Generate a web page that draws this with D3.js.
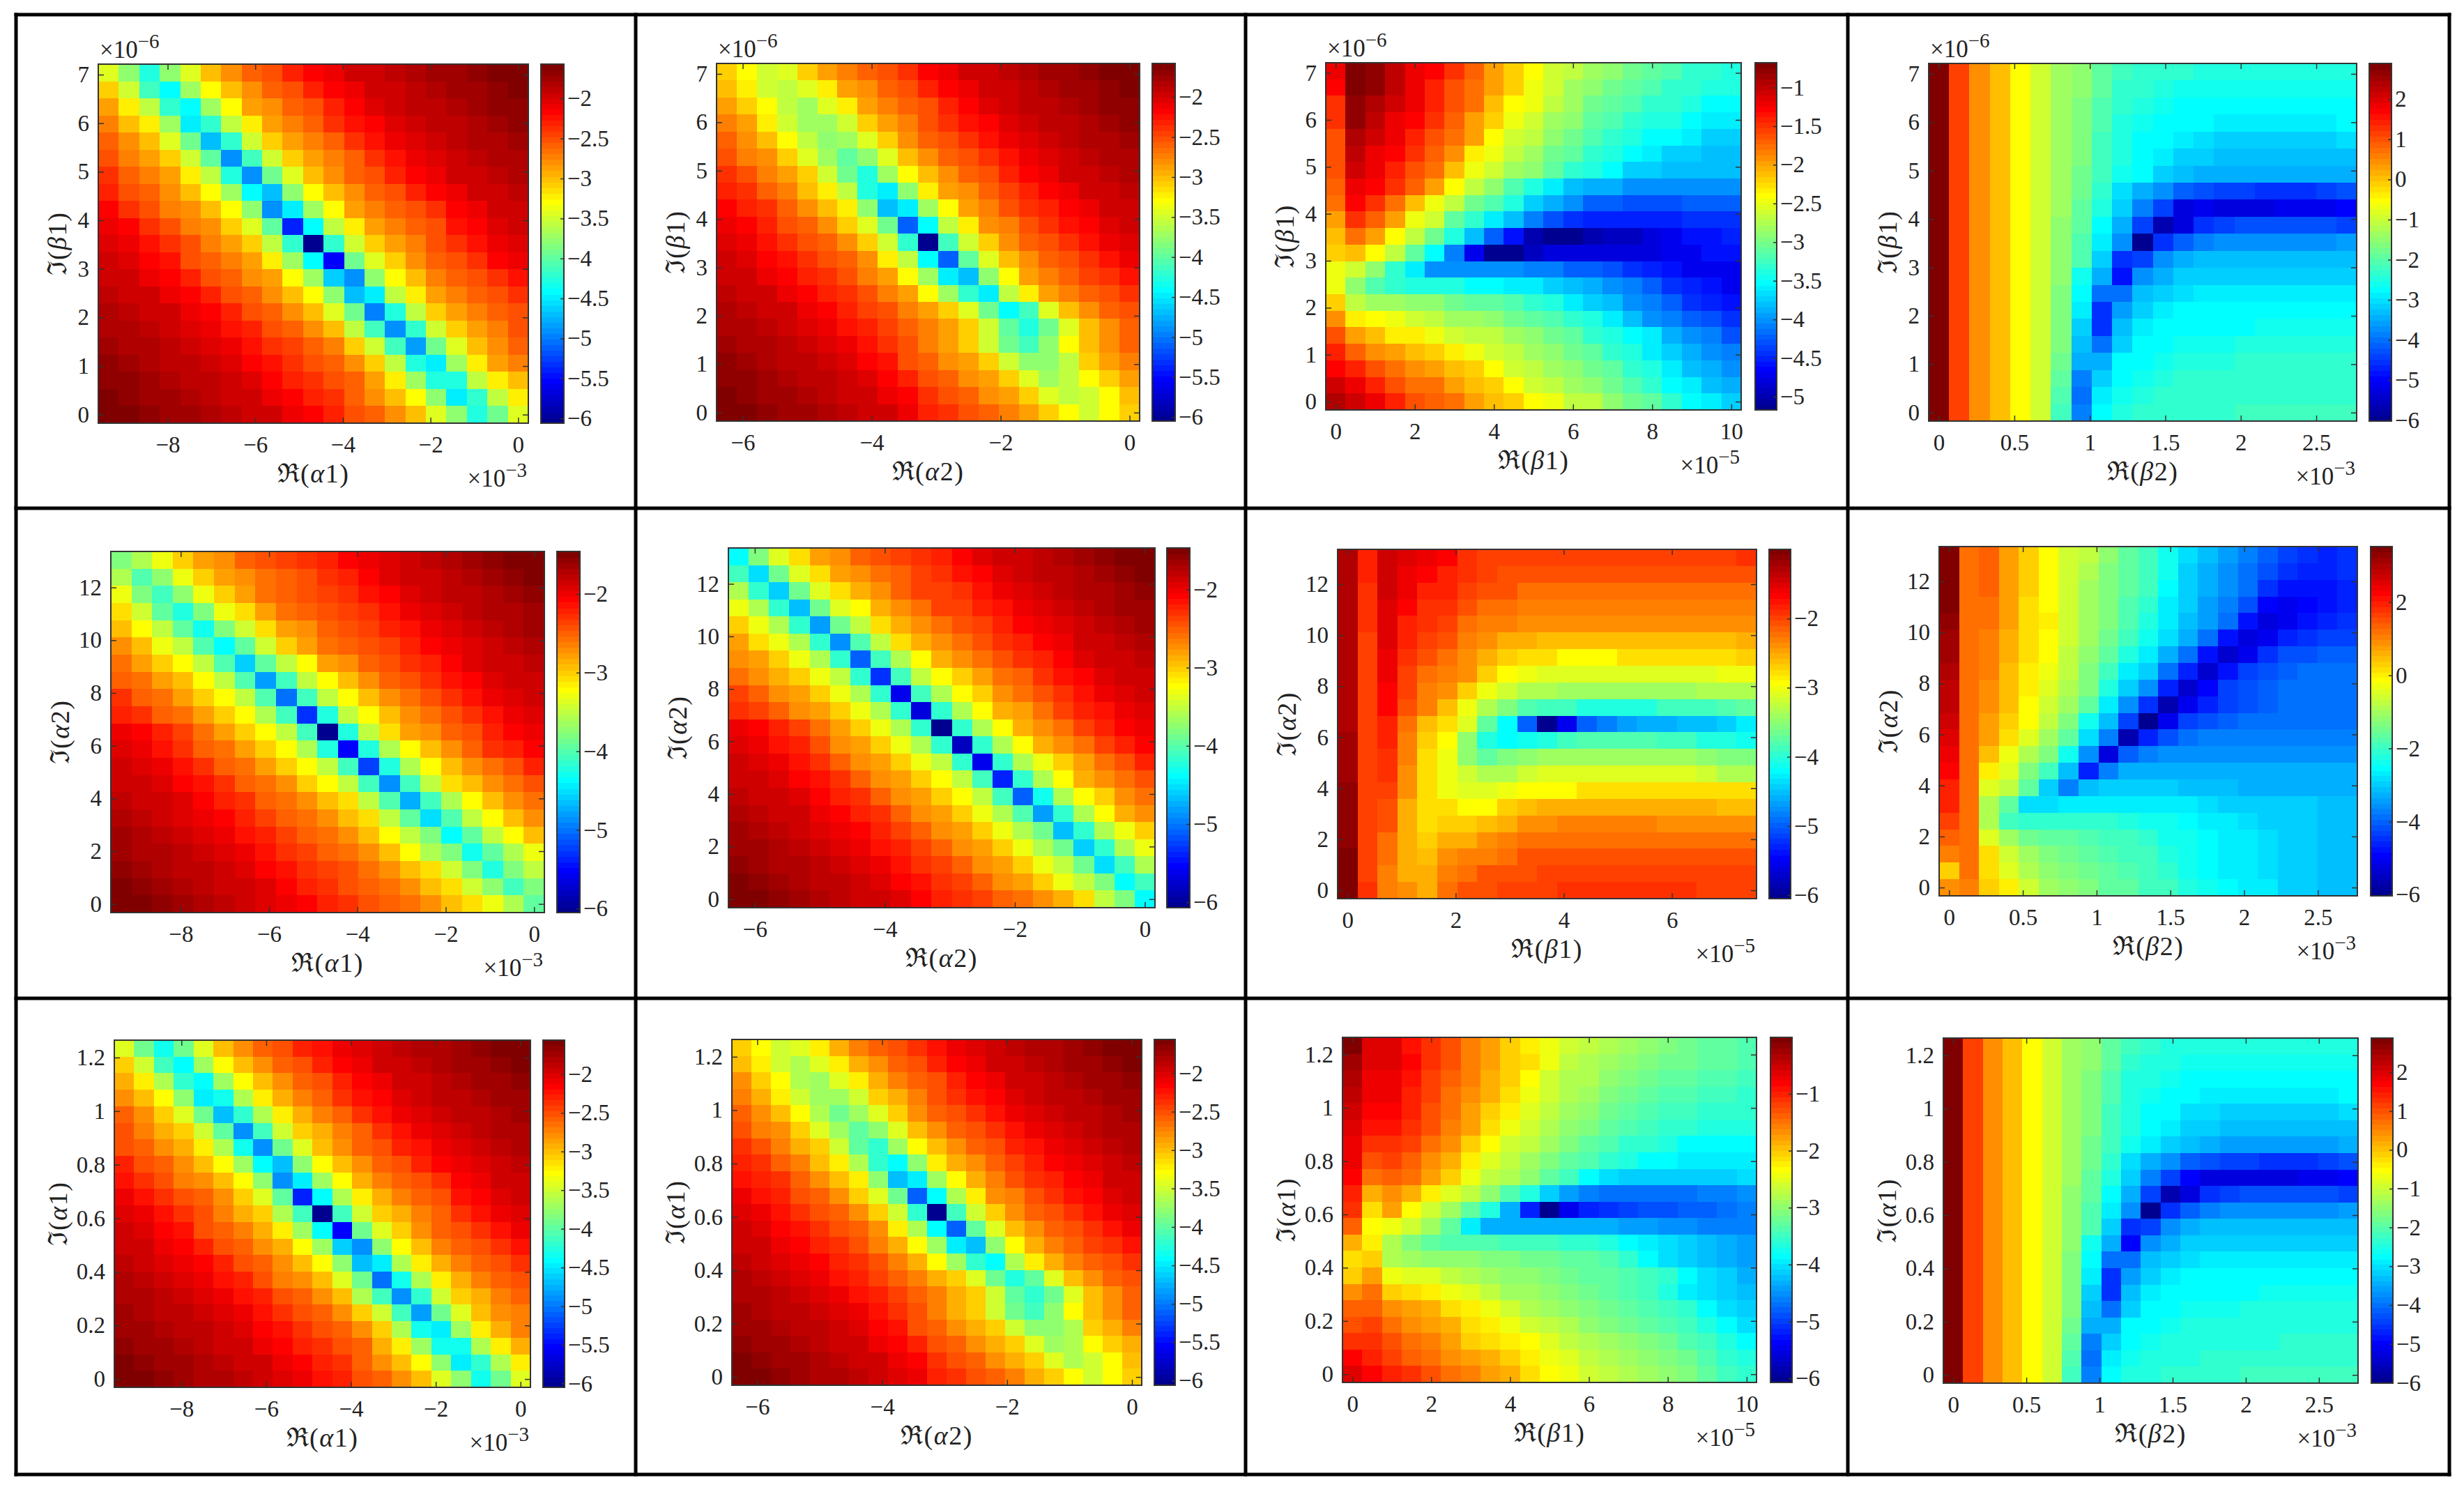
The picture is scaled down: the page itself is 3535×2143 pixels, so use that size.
<!DOCTYPE html>
<html>
<head>
<meta charset="utf-8">
<script src="https://cdn.jsdelivr.net/npm/d3@7"></script>
<style>
  html, body { margin: 0; background: #fff; }
  text { font-family: "Liberation Serif", "DejaVu Serif", serif; fill: #222; }
</style>
</head>
<body>
<svg id="chart"></svg>
<script>
// cells, top row first, in units of -0.1 (33 means -3.3)
const a1b1 = [
[34,38,43,38,34,30,28,26,25,23,22,21,19.9,19.4,18.8,18.3,17.8,17.3,16.8,16.3,15.8],
[31,35,41,44,37,33,30,28,26,25,23,21.8,20.8,19.8,19.3,18.7,18.2,17.7,17.2,16.7,16.2],
[29,32,36,42,44,37,33,29,28,26,25,22.8,21.7,20.6,19.7,19.2,18.6,18.1,17.6,17.1,16.6],
[27,30,32,37,45,42,36,32,29,27,26,23.7,22.6,21.5,20.4,19.6,19.1,18.6,18.1,17.6,17.1],
[26,28,30,34,39,47,42,35,31,29,27,26,24,22.3,21.2,20.2,19.5,19,18.5,18,17.5],
[25,27,29,31,35,40,49,41,35,31,29,27,26,24,22.1,21,20,19.5,18.9,18.4,17.9],
[24,26,27,29,32,36,43,49,39,34,30,28,26,25,23,22,20.9,19.9,19.4,18.9,18.4],
[23,25,26,28,30,33,37,44,47,38,33,30,28,26,25,23,21.9,20.8,19.9,19.4,18.8],
[22,24,25,27,28,30,33,38,49,45,37,33,29,27,26,25,23.5,21.7,20.7,19.8,19.3],
[21,22,24,25,27,28,31,34,40,54,44,36,32,29,27,26,25,22.6,21.5,20.4,19.7],
[20.2,21.2,22.3,24,25,27,29,31,36,42,60,42,35,31,29,27,25.5,24,22.3,21.2,20.2],
[19.7,20.4,21.5,22.6,25,26,27,29,32,37,44,55,39,34,31,28,26,25,24,22,21],
[19.3,19.8,20.7,21.7,22.8,25,26,28,29,33,37,46,49,38,33,30,27,26,25,24,22.2],
[18.8,19.4,19.9,20.8,21.9,22.9,25,26,28,30,33,38,47,45,36,32,29,27,26,25,24],
[18.4,18.9,19.4,19.9,20.9,22,23,25,26,28,30,34,39,50,43,36,31,29,27,26,25],
[17.9,18.4,18.9,19.5,20,21,22.1,23.2,25,26,28,30,36,41,49,42,35,31,29,27,25],
[17.5,18,18.5,19,19.5,20.2,21.2,22.3,23.5,24.5,26,27,31,35,41,48,39,34,30,28,26],
[17.1,17.6,18.1,18.6,19.1,19.6,20.4,21.5,22.6,23.7,25,26,28,31,36,43,45,37,32,29,27],
[16.6,17.1,17.6,18.1,18.6,19.2,19.7,20.6,21.7,22.8,24,25,26,29,32,37,43,43,36,32,30],
[16.2,16.7,17.2,17.7,18.2,18.7,19.3,19.8,20.8,21.8,23,24,26,28,30,33,38,45,42,36,32],
[15.8,16.3,16.8,17.3,17.8,18.3,18.8,19.4,19.9,21,22,23,25,26,28,30,34,38,43,39,34]];
const a2b1 = [
[31,33,35,34,31,29,27,26,25,24,22,21,19.9,19.4,18.8,18.3,17.8,17.3,16.8,16.3,15.8],
[30,32,35,36,34,32,29,28,26,25,23,21.8,20.8,19.8,19.3,18.7,18.2,17.7,17.2,16.7,16.2],
[29,31,33,36,37,34,32,29,27,26,25,22.8,21.7,20.6,19.7,19.2,18.6,18.1,17.6,17.1,16.6],
[27,29,32,35,37,37,35,31,29,27,25,23.7,22.6,21.5,20.4,19.6,19.1,18.6,18.1,17.6,17.1],
[26,28,30,33,36,38,37,34,31,28,26,25,24,22.3,21.2,20.2,19.5,19,18.5,18,17.5],
[25,27,28,31,34,37,40,38,34,30,28,26,25,23.5,22.1,21,20,19.5,18.9,18.4,17.9],
[24,25,27,29,31,35,39,43,37,33,30,28,26,25,23,22,20.9,19.9,19.4,18.9,18.4],
[23,24,26,27,30,32,36,43,45,38,32,29,28,26,24.5,23,21.9,20.8,19.9,19.4,18.8],
[22,23,24,26,28,30,32,38,47,45,37,33,29,27,25,24,22.8,21.7,20.7,19.8,19.3],
[21,22,23,25,26,28,31,34,39,51,44,36,32,28,27,25,24,22.6,21.5,20.4,19.7],
[20.2,21.2,22.3,23.5,25,26,28,31,35,42,60,41,35,31,28,26,25,24,22.3,21.2,20.2],
[19.7,20.4,21.5,22.6,24,25,26,28,32,36,44,51,40,34,30,28,26,25,24,22.5,21],
[19.3,19.8,20.7,21.7,22.8,24,25,27,29,33,37,45,47,38,33,29,27,26,24.5,23.5,22.2],
[18.8,19.4,19.9,20.8,21.9,22.9,24,25,27,29,33,37,42,45,36,32,29,27,26,25,23.5],
[18.4,18.9,19.4,19.9,20.9,22,23,24.5,25.5,27,29,31,34,39,44,41,34,30,28,26,25],
[17.9,18.4,18.9,19.5,20,21,22.1,23.2,24.5,26,27,29,31,35,40,43,39,34,30,28,26],
[17.5,18,18.5,19,19.5,20.2,21.2,22.3,23.5,25,27,29,31,35,39,41,38,33,30,28,26],
[17.1,17.6,18.1,18.6,19.1,19.6,20.4,21.5,22.6,25,26,28,29,31,35,38,38,36,31,29,27],
[16.6,17.1,17.6,18.1,18.6,19.2,19.7,20.6,21.7,22.8,25,26,28,29,31,34,37,36,33,31,29],
[16.2,16.7,17.2,17.7,18.2,18.7,19.3,19.8,20.8,21.8,24,25,26,28,29,31,34,36,35,33,30],
[15.8,16.3,16.8,17.3,17.8,18.3,18.8,19.4,19.9,21,23,24,25,26,27,29,31,33,35,33,31]];
const b1b1 = [
[12,7,8,10,12,13,15,17,20,22,24,26,27,28,29,30,31,32,33,33,34],
[13,7,8,10,12,14,16,18,20,22,25,26,28,29,30,31,32,33,33,34,34],
[15,8,9,11,12,14,16,18,21,24,25,27,28,30,31,32,33,33,34,35,35],
[15,8,10,12,13,15,17,20,22,25,26,28,29,31,32,33,34,34,35,36,36],
[16,9,11,12,14,16,18,20,24,26,27,29,30,32,33,34,35,35,36,37,37],
[16,10,12,13,15,17,19,23,25,27,28,30,31,33,34,35,36,37,37,38,38],
[16,11,12,14,16,18,21,25,26,28,29,31,33,34,35,37,37,38,38,38,38],
[17,12,13,15,17,20,24,27,29,32,34,36,38,39,39,40,40,40,40,40,40],
[18,13,15,18,21,25,27,30,32,34,37,39,40,42,42,43,43,43,42,42,42],
[20,15,17,20,25,26,31,33,36,38,41,43,44,45,45,45,45,45,44,44,44],
[21,18,20,24,27,30,34,38,42,46,50,51,51,50,49,49,48,47,46,46,45],
[22,21,24,27,31,35,41,47,51,51,49,48,48,48,48,48,48,47,47,46,46],
[25,26,29,33,36,40,40,40,40,40,41,41,42,42,43,44,45,46,47,47,47],
[25,29,32,33,34,34,34,35,35,36,36,37,38,39,40,41,42,44,45,46,47],
[22,27,28,28,29,29,30,31,31,32,33,34,36,37,38,40,41,42,44,45,46],
[19,23,24,25,26,27,28,28,29,30,31,32,33,34,36,38,40,41,42,43,44],
[16,20,21,23,23,25,26,27,27,28,29,30,31,33,34,35,36,39,40,41,43],
[14,17,19,20,21,22,23,25,26,27,28,29,30,31,33,34,36,37,39,40,41],
[13,14,16,18,19,20,21,22,24,26,27,28,29,30,31,33,34,36,38,39,40],
[11,12,14,16,18,18,20,21,22,24,26,27,28,29,30,32,33,35,36,38,39],
[9,11,12,14,16,17,18,20,21,22,24,25,27,27,29,30,31,33,35,36,37]];
const b2b1 = [
[-29,-11,-5,0,5,10,13,15,19,22,23,24,24,25,25,25,25,25,25,25,25],
[-29,-11,-5,0,5,10,13,15,19,23,24,25,26,26,26,26,26,26,26,26,26],
[-29,-11,-5,0,5,10,13,16,20,24,25,26,27,27,27,28,28,28,28,28,27],
[-29,-11,-5,0,5,10,13,16,21,25,26,27,28,28,29,29,29,29,29,29,28],
[-29,-11,-5,0,5,10,13,17,22,25,27,28,29,30,31,31,31,31,31,31,30],
[-29,-11,-5,0,5,10,14,17,22,25,28,29,31,32,33,33,33,33,33,33,33],
[-29,-11,-5,0,5,10,14,18,22,26,28,31,33,34,35,35,35,35,35,35,35],
[-29,-11,-5,0,5,10,14,18,23,30,34,37,41,43,44,44,45,45,45,44,43],
[-29,-11,-5,0,5,10,14,19,25,32,38,44,52,51,52,52,52,51,51,51,50],
[-29,-11,-5,0,5,10,15,19,28,35,44,57,52,46,44,43,43,43,43,43,44],
[-29,-11,-5,0,5,10,15,20,29,37,60,46,41,38,37,37,37,37,37,37,36],
[-29,-11,-5,0,5,10,15,21,31,46,44,37,35,33,33,33,33,33,33,33,33],
[-29,-11,-5,0,5,10,15,26,35,49,37,34,32,31,31,31,31,31,31,31,31],
[-29,-11,-5,0,5,10,16,28,40,40,33,32,30,29,29,29,29,29,29,29,29],
[-29,-11,-5,0,5,10,16,29,45,36,32,29,28,28,28,28,28,28,28,28,27],
[-29,-11,-5,0,5,10,16,31,45,33,29,28,27,27,27,27,26,26,26,26,26],
[-29,-11,-5,0,5,10,17,33,40,31,28,27,26,26,26,25,25,25,25,25,25],
[-29,-11,-5,0,5,10,18,35,35,28,27,26,25,25,25,24,24,24,24,24,24],
[-29,-11,-5,0,5,10,19,38,31,27,26,25,24,24,24,24,24,23,23,23,23],
[-29,-11,-5,0,5,10,20,40,29,26,25,24,24,23,23,23,23,23,23,23,23],
[-29,-11,-5,0,5,10,22,39,27,25,24,23,23,23,23,22,22,22,22,22,22]];
const a1a2 = [
[38,36,33,30,28,27,25,24.5,23.8,23,22,20.8,19.7,19,18.3,17.7,17.1,16.5,15.9,15.3,14.7],
[36,40,37,33,30,28,27,25.5,24.8,24,23,21.8,20.6,19.6,18.9,18.2,17.6,17,16.4,15.8,15.2],
[33,38,41,37,33,30,28,26,25,24,23.5,22.8,21.6,20.4,19.4,18.7,18.1,17.5,16.9,16.3,15.7],
[31,34,39,42,38,33,31,28,26,25,24,23.5,22.5,21.3,20.2,19.3,18.6,18,17.4,16.8,16.2],
[29,32,35,39,43,38,34,31,28,27,25,24.5,23.5,22.3,21.1,20,19.2,18.5,17.9,17.3,16.7],
[27,29,33,35,40,44,39,34,30,28,26,25,24.5,23.3,22,20.9,19.8,19,18.4,17.8,17.2],
[26,28,30,32,35,40,46,39,35,32,28,27,25,24.5,23,21.9,20.7,19.6,18.9,18.3,17.7],
[25,26,28,29,32,35,40,48,41,35,32,29,27,25,24,22.8,21.7,20.5,19.5,18.9,18.3],
[23,25,26,28,30,32,35,40,50,41,35,32,29,27,26,24.5,22.7,21.5,20.3,19.4,18.7],
[22,23,25,26,28,30,32,36,41,53,42,35,32,29,27,26,24,22.5,21.3,20.1,19.3],
[19.9,21,22.3,23.8,26,28,30,32,35,41,60,42,35,31,28,27,25,24,22.3,21,19.9],
[19.3,20.1,21.3,22.5,25,26,28,30,32,36,42,55,42,36,32,29,27,25,23,21.9,20.7],
[18.7,19.4,20.3,21.5,22.7,25,26,28,30,32,35,41,52,42,36,32,29,27,25.5,24,22],
[18.3,18.9,19.5,20.5,21.7,22.8,25,26,27,30,32,35,41,49,41,35,31,29,27,26,24.5],
[17.7,18.3,18.9,19.6,20.7,21.9,23,25,26,27,29,31,35,40,47,41,36,32,29,27,26],
[17.2,17.8,18.4,19,19.8,20.9,22,23.3,25,26,27,29,31,35,39,45,40,35,32,29,27],
[16.7,17.3,17.9,18.5,19.2,20,21.1,22.3,23.5,25,26,27,29,32,35,38,44,39,35,32,29],
[16.2,16.8,17.4,18,18.6,19.3,20.2,21.3,22.5,23.5,25,26,27,29,32,36,38,43,39,36,33],
[15.7,16.3,16.9,17.5,18.1,18.7,19.4,20.4,21.6,22.8,23.8,24.5,26,27,29,31,34,38,42,38,35],
[15.2,15.8,16.4,17,17.6,18.2,18.9,19.6,20.6,21.8,23,24,25,26,27,29,31,34,37,41,38],
[14.7,15.3,15.9,16.5,17.1,17.7,18.3,19,19.7,20.8,22,23,24,25,26,27,29,31,33,36,39]];
const a2a2 = [
[44,38,34,31,28,27,25,24.5,23.8,23,22,20.8,19.7,19,18.3,17.7,17.1,16.5,15.9,15.3,14.7],
[41,45,39,34,31,28,27,25.5,24.8,24,23,21.8,20.6,19.6,18.9,18.2,17.6,17,16.4,15.8,15.2],
[36,42,46,39,34,31,29,27,25,24,23.5,22.8,21.6,20.4,19.4,18.7,18.1,17.5,16.9,16.3,15.7],
[33,36,42,47,39,34,32,29,27,26,24,23.5,22.5,21.3,20.2,19.3,18.6,18,17.4,16.8,16.2],
[30,33,36,42,48,39,35,31,29,27,26,24.5,23.5,22.3,21.1,20,19.2,18.5,17.9,17.3,16.7],
[28,31,33,36,42,49,40,35,31,29,27,26,24.5,23.3,22,20.9,19.8,19,18.4,17.8,17.2],
[27,28,30,33,36,42,51,41,36,32,29,27,26,24.5,23,21.9,20.7,19.6,18.9,18.3,17.7],
[26,27,29,30,33,35,42,53,41,35,32,30,28,26,25,22.8,21.7,20.5,19.5,18.9,18.3],
[24,25,27,28,30,33,36,42,56,41,36,32,30,27,26,24.5,22.7,21.5,20.3,19.4,18.7],
[23,24,25,27,28,30,33,36,42,57,42,36,32,29,28,26,24,22.5,21.3,20.1,19.3],
[19.9,21,22.3,23.8,25.5,28,30,33,36,42,60,42,36,32,29,27,25.5,23.8,22.3,21,19.9],
[19.3,20.1,21.3,22.5,24.5,27,28,30,33,36,42,58,42,36,32,29,27,25.5,23.5,21.9,20.7],
[18.7,19.4,20.3,21.5,22.7,25,27,28,30,33,35,42,56,42,36,33,30,28,26,24.5,22],
[18.3,18.9,19.5,20.5,21.7,22.8,25,27,28,30,32,35,41,54,42,36,32,29,27,26,24.5],
[17.7,18.3,18.9,19.6,20.7,21.9,23,25,27,28,30,32,35,41,51,43,36,32,30,27,26],
[17.2,17.8,18.4,19,19.8,20.9,22,23.3,25,27,28,30,33,36,40,48,42,36,32,29,27],
[16.7,17.3,17.9,18.5,19.2,20,21.1,22.3,23.5,25,27,28,30,33,36,39,47,42,36,33,30],
[16.2,16.8,17.4,18,18.6,19.3,20.2,21.3,22.5,24,25,27,28,30,33,36,39,46,42,36,33],
[15.7,16.3,16.9,17.5,18.1,18.7,19.4,20.4,21.6,22.8,24,25,27,28,30,33,35,39,45,41,36],
[15.2,15.8,16.4,17,17.6,18.2,18.9,19.6,20.6,21.8,23,24,25,27,28,30,33,35,38,44,41],
[14.7,15.3,15.9,16.5,17.1,17.7,18.3,19,19.7,20.8,22,23,24,25,26,27,29,31,35,38,44]];
const b1a2 = [
[13,18,14,15,16,17,19,20,20,20,20,20,20,20,20,20,20,20,20,20,19],
[13,18,14,16,17,18,19,20,21,21,21,21,21,21,21,21,21,21,21,21,21],
[13,19,14,16,18,18,20,21,21,22,22,22,22,22,22,22,22,22,22,22,22],
[13,19,15,17,19,19,21,22,22,23,23,23,23,23,23,23,23,23,23,23,23],
[13,19,15,18,19,20,22,23,23,24,24,24,24,24,24,24,24,24,24,24,24],
[13,20,15,18,20,21,23,24,25,25,26,26,26,26,26,26,26,26,26,26,25],
[13,20,16,19,21,22,24,25,27,28,28,29,29,29,28,28,28,28,28,28,27],
[13,20,16,20,22,23,24,27,29,30,31,31,31,31,31,31,31,31,31,30,30],
[13,20,17,20,23,24,27,30,32,33,33,34,34,34,34,34,34,34,33,33,33],
[13,20,17,21,23,26,30,33,36,38,39,39,40,40,40,40,39,39,39,38,37],
[13,20,18,22,26,28,31,37,42,50,60,55,50,48,47,46,46,45,45,44,43],
[12,20,18,23,27,29,35,40,42,41,40,39,38,38,38,38,39,39,40,40,41],
[12,20,19,23,28,30,35,37,36,35,34,34,34,34,34,34,34,34,35,36,36],
[12,20,19,24,28,30,32,33,33,32,31,31,31,31,31,31,31,31,32,33,33],
[11,20,20,24,28,30,31,31,30,29,29,29,28,28,28,28,28,28,28,28,28],
[11,20,21,25,28,28,29,29,27,26,25,25,25,25,25,25,25,25,25,26,26],
[11,20,21,25,28,27,27,26,25,24,24,23,23,23,23,23,24,24,24,24,24],
[11,20,22,25,27,25,25,24,23,22,22,22,22,22,22,22,22,22,22,22,22],
[10,20,22,25,26,24,23,23,22,21,21,21,21,21,21,21,21,21,21,21,21],
[10,19.5,23,25,25,23,22,21,21,21,20,20,20,20,20,20,20,20,20,20,20],
[10,19,23,24,25,22,21,21,20,20,20,19,19,19,19,19,19,19,20,20,20]];
const b2a2 = [
[-35,-12,-14,-8,-3,1,6,8,12,16,19,23,28,31,34,37,40,43,45,46,45],
[-35,-12,-13,-8,-3,1,6,9,13,16,20,24,29,32,35,38,42,45,46,46,45],
[-34,-12,-13,-8,-3,1,6,10,13,17,20,25,30,33,36,39,44,47,48,47,46],
[-34,-12,-12,-7,-2,1,6,10,14,18,21,26,30,34,37,42,49,51,49,47,46],
[-33,-12,-12,-7,-2,0,6,10,14,18,22,27,31,34,39,48,52,50,47,46,45],
[-32,-12,-11,-6,-1,1,6,11,15,19,23,28,32,38,47,52,50,46,44,43,43],
[-31,-12,-10,-6,-1,2,7,12,17,22,27,32,39,48,53,50,45,42,41,40,40],
[-30,-12,-10,-5,0,3,8,13,20,26,30,38,46,53,47,43,41,40,39,39,39],
[-29,-12,-9,-5,0,4,9,14,22,30,36,46,54,49,43,41,40,39,39,39,38],
[-28,-12,-9,-4,1,6,11,17,27,35,45,57,50,46,43,41,40,39,39,39,39],
[-27,-12,-8,-3,2,8,14,23,31,43,60,50,43,41,40,39,39,39,38,38,38],
[-26,-12,-7,-1,5,10,17,28,37,56,46,41,38,37,37,37,37,37,37,37,37],
[-24,-12,-4,3,9,14,24,35,52,40,37,36,35,35,35,35,35,35,35,35,35],
[-22,-12,0,5,13,20,31,46,37,33,32,32,32,32,32,33,33,33,33,33,33],
[-20,-12,4,8,17,30,37,31,29,30,30,30,31,31,31,32,32,32,32,32,32],
[-19,-12,9,17,28,28,26,26,26,26,26,27,27,28,29,29,30,30,30,31,31],
[-17,-12,9,20,21,21,21,21,21,22,23,24,25,26,27,28,29,30,30,31,31],
[-14,-12,4,11,15,16,17,18,19,20,21,23,24,25,26,27,28,29,30,31,31],
[-10,-12,-1,6,11,14,15,17,18,19,20,22,24,25,26,27,28,29,30,31,31],
[-3,-12,-2,4,9,12,14,15,16,18,19,21,23,25,26,27,28,29,30,31,31],
[-9,-11,-3,0,6,10,12,14,16,17,19,20,22,23,25,26,27,29,30,31,31]];
const a1a1 = [
[34,39,43,39,34,30,28,26,25,23,22,21,19.9,19.4,18.8,18.3,17.8,17.3,16.8,16.3,15.8],
[31,35,41,44,37,33,30,28,26,25,23,21.8,20.8,19.8,19.3,18.7,18.2,17.7,17.2,16.7,16.2],
[29,32,36,42,44,37,33,30,28,26,25,22.8,21.7,20.6,19.7,19.2,18.6,18.1,17.6,17.1,16.6],
[28,30,33,38,45,43,36,32,29,27,26,23.7,22.6,21.5,20.4,19.6,19.1,18.6,18.1,17.6,17.1],
[26,28,31,34,39,47,42,36,32,29,27,26,24,22.3,21.2,20.2,19.5,19,18.5,18,17.5],
[25,27,29,31,35,40,49,41,35,31,29,27,26,24,22.1,21,20,19.5,18.9,18.4,17.9],
[25,26,28,29,32,36,43,49,39,34,30,28,26,25,23,22,20.9,19.9,19.4,18.9,18.4],
[23,25,26,28,30,33,37,44,47,38,33,30,28,26,25,23,21.9,20.8,19.9,19.4,18.8],
[22,24,25,27,28,30,33,38,49,45,37,33,29,27,26,25,23.5,21.7,20.7,19.8,19.3],
[21,22,24,25,26,28,31,34,40,54,44,36,32,29,27,26,25,22.6,21.5,20.4,19.7],
[20.2,21.2,22.3,24,25,27,29,31,36,41,60,41,35,31,29,27,25.5,24,22.3,21.2,20.2],
[19.7,20.4,21.5,22.6,25,26,27,29,32,37,44,55,39,34,31,28,26,25,24,22,21],
[19.3,19.8,20.7,21.7,22.8,25,26,28,29,33,37,46,49,38,33,30,27,26,25,24,22.2],
[18.8,19.4,19.9,20.8,21.9,22.9,25,26,28,30,33,38,47,45,36,32,29,27,26,25,24],
[18.4,18.9,19.4,19.9,20.9,22,23,25,27,28,30,34,39,50,43,36,32,29,27,26,25],
[17.9,18.4,18.9,19.5,20,21,22.1,23.2,25,26,28,30,36,41,49,42,35,31,29,27,26],
[17.5,18,18.5,19,19.5,20.2,21.2,22.3,23.5,25,26,28,31,35,41,48,39,34,30,28,27],
[17.1,17.6,18.1,18.6,19.1,19.6,20.4,21.5,22.6,23.7,25,26,28,31,36,43,45,37,32,29,27],
[16.6,17.1,17.6,18.1,18.6,19.2,19.7,20.6,21.7,22.8,24,25,26,29,32,37,43,43,36,32,29],
[16.2,16.7,17.2,17.7,18.2,18.7,19.3,19.8,20.8,21.8,23,24,26,28,30,33,38,45,42,36,32],
[15.8,16.3,16.8,17.3,17.8,18.3,18.8,19.4,19.9,21,22,23,25,26,28,30,34,38,43,39,34]];
const a2a1 = [
[31,33,35,34,32,29,27,26,25,24,22,21,19.9,19.4,18.8,18.3,17.8,17.3,16.8,16.3,15.8],
[30,32,35,36,34,32,29,28,26,25,23,21.8,20.8,19.8,19.3,18.7,18.2,17.7,17.2,16.7,16.2],
[28,31,33,36,37,34,32,29,27,26,25,22.8,21.7,20.6,19.7,19.2,18.6,18.1,17.6,17.1,16.6],
[27,29,32,35,37,37,35,31,29,27,25,23.7,22.6,21.5,20.4,19.6,19.1,18.6,18.1,17.6,17.1],
[26,28,30,33,36,39,37,34,31,28,26,25,24,22.3,21.2,20.2,19.5,19,18.5,18,17.5],
[25,27,28,31,34,37,40,38,34,30,28,26,25,23.5,22.1,21,20,19.5,18.9,18.4,17.9],
[24,25,27,29,31,35,40,42,37,33,30,28,26,25,23,22,20.9,19.9,19.4,18.9,18.4],
[23,24,26,27,30,32,36,42,44,38,32,29,28,26,24.5,23,21.9,20.8,19.9,19.4,18.8],
[22,23,24,26,28,30,32,38,47,45,37,33,29,27,25,24,22.8,21.7,20.7,19.8,19.3],
[21,22,23,25,26,28,31,34,39,51,44,36,32,28,27,25,24,22.6,21.5,20.4,19.7],
[20.2,21.2,22.3,23.5,25,26,28,31,35,42,60,41,35,31,28,26,25,24,22.3,21.2,20.2],
[19.7,20.4,21.5,22.6,24,25,26,28,32,36,44,51,40,34,30,28,26,25,24,22.5,21],
[19.3,19.8,20.7,21.7,22.8,24,25,27,29,33,37,45,47,38,33,29,27,26,24.5,23.5,22.2],
[18.8,19.4,19.9,20.8,21.9,22.9,24,25,27,29,33,37,42,44,36,32,29,27,26,25,23.5],
[18.4,18.9,19.4,19.9,20.9,22,23,24.5,25.5,27,29,31,34,39,43,40,34,30,28,26,25],
[17.9,18.4,18.9,19.5,20,21,22.1,23.2,24.5,26,27,29,31,35,40,42,39,34,30,28,26],
[17.5,18,18.5,19,19.5,20.2,21.2,22.3,23.5,25,27,29,31,35,39,41,38,33,30,28,26],
[17.1,17.6,18.1,18.6,19.1,19.6,20.4,21.5,22.6,25,26,28,29,31,35,38,38,36,31,29,27],
[16.6,17.1,17.6,18.1,18.6,19.2,19.7,20.6,21.7,22.8,25,26,28,29,31,34,37,36,33,31,29],
[16.2,16.7,17.2,17.7,18.2,18.7,19.3,19.8,20.8,21.8,24,25,26,28,29,31,34,36,35,33,30],
[15.8,16.3,16.8,17.3,17.8,18.3,18.8,19.4,19.9,21,23,24,25,26,27,29,31,33,35,33,31]];
const b1a1 = [
[1,6,6,9,11,13,16,18,20,22,24,26,27,28,29,30,31,32,33,33,34],
[2,6,6,8,11,13,16,18,20,21,24,27,28,29,30,31,32,32,33,33,34],
[3,7,7,9,12,14,16,19,20,23,26,28,28,30,31,32,33,33,34,34,35],
[4,7,7,10,12,15,17,19,21,24,26,28,29,31,32,33,34,34,35,35,36],
[5,8,8,10,13,15,18,20,22,25,27,29,30,32,33,34,35,35,36,36,36],
[6,9,9,11,13,16,18,21,24,26,28,30,31,33,34,35,36,36,37,37,37],
[7,11,11,12,15,17,20,23,26,27,29,31,33,34,36,36,37,38,38,38,38],
[7,13,12,14,17,19,22,25,27,29,31,33,34,36,37,38,38,39,39,39,39],
[8,15,14,15,18,20,24,27,28,30,33,35,38,40,41,41,41,41,41,41,40],
[10,19,17,19,22,25,27,30,34,37,41,44,46,47,47,47,47,47,46,46,45],
[11,21,18,23,26,29,33,37,43,52,60,55,52,51,50,49,49,48,48,47,46],
[14,23,24,26,29,33,39,43,43,43,43,43,43,43,44,44,45,45,46,46,46],
[19,22,28,31,33,34,34,34,35,35,35,36,36,37,38,39,40,41,42,43,44],
[21,20,28,29,30,30,30,31,31,32,32,33,33,34,36,38,40,41,42,43,44],
[20,18,24,25,25,27,28,29,30,30,31,32,33,33,34,35,36,38,40,41,43],
[17,15,20,21,22,24,25,27,29,29,30,31,32,33,34,35,37,39,40,41,42],
[14,14,17,18,19,21,22,24,26,28,29,30,31,32,33,34,35,36,38,40,41],
[13,12,15,17,18,19,21,22,24,26,27,28,30,31,32,33,34,35,37,38,40],
[11,11,13,15,16,18,20,21,22,23,25,27,28,29,30,31,32,34,35,37,38],
[8,10,12,14,15,17,18,19,20,22,24,25,27,28,29,30,31,32,34,36,37],
[6,8,10,11,13,15,16,18,19,21,23,24,26,27,28,29,30,31,33,35,36]];
const b2a1 = [
[-29,-11,-5,0,5,10,13,15,19,22,23,24,24,25,25,25,25,25,25,25,25],
[-29,-11,-5,0,5,10,13,15,19,23,24,25,26,26,26,26,26,26,26,26,26],
[-29,-11,-5,0,5,10,13,16,20,24,25,26,27,27,27,28,28,28,28,28,27],
[-29,-11,-5,0,5,10,13,16,21,25,26,27,28,29,29,29,29,29,29,29,28],
[-29,-11,-5,0,5,10,13,17,22,25,27,28,30,30,31,31,31,31,31,31,30],
[-29,-11,-5,0,5,10,14,17,22,25,28,29,31,32,33,33,33,33,33,33,33],
[-29,-11,-5,0,5,10,14,18,22,26,29,31,33,35,36,36,36,36,36,36,35],
[-29,-11,-5,0,5,10,14,18,23,30,34,37,41,43,44,44,45,45,45,44,43],
[-29,-11,-5,0,5,10,14,19,25,32,38,44,50,52,52,52,52,52,51,51,50],
[-29,-11,-5,0,5,10,15,19,28,35,44,57,52,46,44,43,43,43,43,43,44],
[-29,-11,-5,0,5,10,15,20,29,37,60,46,41,38,37,37,37,37,37,37,36],
[-29,-11,-5,0,5,10,15,21,31,46,44,37,35,33,33,33,33,33,33,33,33],
[-29,-11,-5,0,5,10,15,26,35,49,37,34,32,31,31,31,31,31,31,31,31],
[-29,-11,-5,0,5,10,16,28,40,40,33,32,30,29,29,29,29,29,29,29,29],
[-29,-11,-5,0,5,10,16,29,45,36,32,29,28,28,28,28,28,28,28,28,27],
[-29,-11,-5,0,5,10,16,31,45,33,29,28,27,27,27,27,26,26,26,26,26],
[-29,-11,-5,0,5,10,17,33,40,31,28,27,26,26,26,25,25,25,25,25,25],
[-29,-11,-5,0,5,10,18,35,35,28,27,26,25,25,25,24,24,24,24,24,24],
[-29,-11,-5,0,5,10,19,38,31,27,26,25,24,24,24,24,24,23,23,23,23],
[-29,-11,-5,0,5,10,20,40,29,26,25,24,24,23,23,23,23,23,23,23,23],
[-29,-11,-5,0,5,10,22,39,27,25,24,23,23,23,23,22,22,22,22,22,22]];

// first and last cell centre on each axis
const xRanges = { a1: [-9.35, 0], a2: [-6.25, 0], b1: [0, 10], b1short: [0, 7.38], b2: [0, 2.7] };
const yRanges = { b1: [0, 7.04], a2: [0, 13.04], a1: [0, 1.234] };

const xTicks = {
    a1: [-8, -6, -4, -2, 0], a2: [-6, -4, -2, 0], b1: [0, 2, 4, 6, 8, 10],
    b1short: [0, 2, 4, 6], b2: [0, 0.5, 1, 1.5, 2, 2.5]
};
const yTicks = {
    b1: [0, 1, 2, 3, 4, 5, 6, 7], a2: [0, 2, 4, 6, 8, 10, 12], a1: [0, 0.2, 0.4, 0.6, 0.8, 1, 1.2]
};
const halfStep = [-6, -5.5, -5, -4.5, -4, -3.5, -3, -2.5, -2];
const betaStep = [-5, -4.5, -4, -3.5, -3, -2.5, -2, -1.5, -1];
const wholeStep = [-6, -5, -4, -3, -2];
const wideStep = [-6, -5, -4, -3, -2, -1];
const b2Bar = [-6, -5, -4, -3, -2, -1, 0, 1, 2];
const b2EvenBar = [-6, -4, -2, 0, 2];

const xLabels = { a1: ["\u211C(", "\u03B1", "1)"], a2: ["\u211C(", "\u03B1", "2)"], b1: ["\u211C(", "\u03B2", "1)"], b1short: ["\u211C(", "\u03B2", "1)"], b2: ["\u211C(", "\u03B2", "2)"] };
const yLabels = { b1: ["\u2111(", "\u03B2", "1)"], a2: ["\u2111(", "\u03B1", "2)"], a1: ["\u2111(", "\u03B1", "1)"] };
const xPower = { a1: "\u22123", a2: null, b1: "\u22125", b1short: "\u22125", b2: "\u22123" };

const panels = [
    { m: a1b1, xk: "a1", yk: "b1", box: [141, 758, 92, 607], bar: [776, 809], c: [-6.06, -1.57], ct: halfStep, top: true, yl: 46 },
    { m: a2b1, xk: "a2", yk: "b1", box: [1028, 1635, 91, 604], bar: [1653, 1686], c: [-6.05, -1.58], ct: halfStep, top: true, yl: 46 },
    { m: b1b1, xk: "b1", yk: "b1", box: [1902, 2498, 90, 588], bar: [2518, 2549], c: [-5.17, -0.68], ct: betaStep, top: true, yl: 46 },
    { m: b2b1, xk: "b2", yk: "b1", box: [2767, 3381, 91, 604], bar: [3399, 3431], c: [-6.02, 2.89], ct: b2Bar, top: true, yl: 46 },
    { m: a1a2, xk: "a1", yk: "a2", box: [159, 781, 791, 1309], bar: [799, 832], c: [-6.05, -1.46], ct: wholeStep, yl: 60 },
    { m: a2a2, xk: "a2", yk: "a2", box: [1045, 1657, 786, 1302], bar: [1674, 1707], c: [-6.07, -1.47], ct: wholeStep, yl: 60 },
    { m: b1a2, xk: "b1short", yk: "a2", box: [1919, 2520, 788, 1289], bar: [2538, 2569], c: [-6.05, -1.0], ct: wholeStep, yl: 60 },
    { m: b2a2, xk: "b2", yk: "a2", box: [2782, 3382, 784, 1285], bar: [3401, 3432], c: [-6.03, 3.52], ct: b2EvenBar, yl: 60 },
    { m: a1a1, xk: "a1", yk: "a1", box: [164, 761, 1492, 1990], bar: [779, 810], c: [-6.05, -1.56], ct: halfStep, yl: 68 },
    { m: a2a1, xk: "a2", yk: "a1", box: [1050, 1638, 1491, 1987], bar: [1656, 1686], c: [-6.06, -1.56], ct: halfStep, yl: 68 },
    { m: b1a1, xk: "b1", yk: "a1", box: [1926, 2520, 1488, 1983], bar: [2540, 2571], c: [-6.07, -0.01], ct: wideStep, yl: 68 },
    { m: b2a1, xk: "b2", yk: "a1", box: [2788, 3383, 1489, 1984], bar: [3402, 3433], c: [-6.01, 2.88], ct: b2Bar, yl: 68 }
];

const gridX = [23, 912, 1787, 2651, 3514];
const gridY = [21, 729, 1432, 2115];

const svgWidth = 3535, svgHeight = 2143;
const svg = d3.select("#chart")
    .attr("width", svgWidth)
    .attr("height", svgHeight)
    .style("display", "block");

// jet, 64 steps like the matlab colormap
const jet = d3.scaleLinear()
    .domain([0, 0.111, 0.365, 0.619, 0.873, 1])
    .range(["#000090", "#0000ff", "#00ffff", "#ffff00", "#ff0000", "#800000"]);
function jet64(t) {
    const level = Math.max(0, Math.min(63, Math.floor(t * 64)));
    return jet(level / 63);
}

const minusSign = d => String(d).replace("-", "\u2212");

function drawPanel(p) {
    const [left, right, top, bottom] = p.box;
    const xr = xRanges[p.xk], yr = yRanges[p.yk];
    const xStep = (xr[1] - xr[0]) / 20, yStep = (yr[1] - yr[0]) / 20;

    const x = d3.scaleLinear().domain([xr[0] - xStep / 2, xr[1] + xStep / 2]).range([left, right]);
    const y = d3.scaleLinear().domain([yr[0] - yStep / 2, yr[1] + yStep / 2]).range([bottom, top]);
    const colorT = d3.scaleLinear().domain(p.c).range([0, 1]);

    const g = svg.append("g");
    const cells = p.m.flatMap((row, i) => row.map((n, j) => ({
        cx: xr[0] + j * xStep,
        cy: yr[0] + (20 - i) * yStep,
        value: -n / 10
    })));

    g.append("g").selectAll("rect")
        .data(cells)
        .join("rect")
        .attr("x", d => x(d.cx - xStep / 2))
        .attr("y", d => y(d.cy + yStep / 2))
        .attr("width", x(xStep) - x(0) + 0.6)
        .attr("height", y(0) - y(yStep) + 0.6)
        .attr("shape-rendering", "crispEdges")
        .attr("fill", d => jet64(colorT(d.value)));

    g.append("rect")
        .attr("x", left).attr("y", top)
        .attr("width", right - left).attr("height", bottom - top)
        .attr("fill", "none").attr("stroke", "#333").attr("stroke-width", 2);

    const xAxis = g.append("g")
        .attr("transform", "translate(0," + bottom + ")")
        .call(d3.axisBottom(x).tickValues(xTicks[p.xk]).tickFormat(minusSign).tickSizeInner(-8).tickSizeOuter(0).tickPadding(19));
    const yAxis = g.append("g")
        .attr("transform", "translate(" + left + ",0)")
        .call(d3.axisLeft(y).tickValues(yTicks[p.yk]).tickFormat(minusSign).tickSizeInner(-8).tickSizeOuter(0).tickPadding(13));
    const xTop = g.append("g")
        .attr("transform", "translate(0," + top + ")")
        .call(d3.axisTop(x).tickValues(xTicks[p.xk]).tickFormat("").tickSizeInner(-8).tickSizeOuter(0));
    const yRight = g.append("g")
        .attr("transform", "translate(" + right + ",0)")
        .call(d3.axisRight(y).tickValues(yTicks[p.yk]).tickFormat("").tickSizeInner(-8).tickSizeOuter(0));

    [xAxis, yAxis, xTop, yRight].forEach(a => {
        a.select(".domain").remove();
        a.selectAll("line").attr("stroke", "#333").attr("stroke-width", 1.5);
        a.selectAll("text").style("font-size", "33px");
    });

    const labelText = (sel, parts) => {
        sel.append("tspan").text(parts[0]);
        sel.append("tspan").style("font-style", "italic").text(parts[1]);
        sel.append("tspan").text(parts[2]);
    };

    g.append("text")
        .attr("x", (left + right) / 2).attr("y", bottom + 85)
        .attr("text-anchor", "middle").style("font-size", "38px").style("letter-spacing", "1.5px")
        .call(labelText, xLabels[p.xk]);

    g.append("text")
        .attr("transform", "translate(" + (left - p.yl) + "," + (top + bottom) / 2 + ") rotate(-90)")
        .attr("text-anchor", "middle").style("font-size", "38px").style("letter-spacing", "1.5px")
        .call(labelText, yLabels[p.yk]);

    const power = (px, py, anchor, exp) => {
        const t = g.append("text").attr("x", px).attr("y", py)
            .attr("text-anchor", anchor).style("font-size", "35px");
        t.append("tspan").text("\u00D710");
        t.append("tspan").attr("dy", -14).style("font-size", "29px").text(exp);
    };
    if (xPower[p.xk]) power(right - 2, bottom + 91, "end", xPower[p.xk]);
    if (p.top) power(left + 2, top - 9, "start", "\u22126");

    // colorbar
    const barLeft = p.bar[0], barRight = p.bar[1];
    const levels = d3.range(64);
    const barBand = d3.scaleBand().domain(levels).range([bottom, top]);
    g.append("g").selectAll("rect")
        .data(levels)
        .join("rect")
        .attr("x", barLeft)
        .attr("y", d => barBand(d))
        .attr("width", barRight - barLeft)
        .attr("height", barBand.bandwidth() + 0.6)
        .attr("shape-rendering", "crispEdges")
        .attr("fill", d => jet(d / 63));

    g.append("rect")
        .attr("x", barLeft).attr("y", top)
        .attr("width", barRight - barLeft).attr("height", bottom - top)
        .attr("fill", "none").attr("stroke", "#333").attr("stroke-width", 2);

    const c = d3.scaleLinear().domain(p.c).range([bottom, top]);
    const barAxis = g.append("g")
        .attr("transform", "translate(" + barRight + ",0)")
        .call(d3.axisRight(c).tickValues(p.ct).tickFormat(minusSign).tickSizeInner(-5).tickSizeOuter(0).tickPadding(5));
    barAxis.select(".domain").remove();
    barAxis.selectAll("line").attr("stroke", "#333").attr("stroke-width", 1.5);
    barAxis.selectAll("text").style("font-size", "33px");
}

panels.forEach(drawPanel);

// black table lines around the panels
svg.append("g").selectAll("line")
    .data(gridX)
    .join("line")
    .attr("x1", d => d).attr("x2", d => d)
    .attr("y1", gridY[0] - 2.5).attr("y2", gridY[3] + 2.5)
    .attr("stroke", "#000").attr("stroke-width", 5);
svg.append("g").selectAll("line")
    .data(gridY)
    .join("line")
    .attr("x1", gridX[0] - 2.5).attr("x2", gridX[4] + 2.5)
    .attr("y1", d => d).attr("y2", d => d)
    .attr("stroke", "#000").attr("stroke-width", 5);
</script>
</body>
</html>
